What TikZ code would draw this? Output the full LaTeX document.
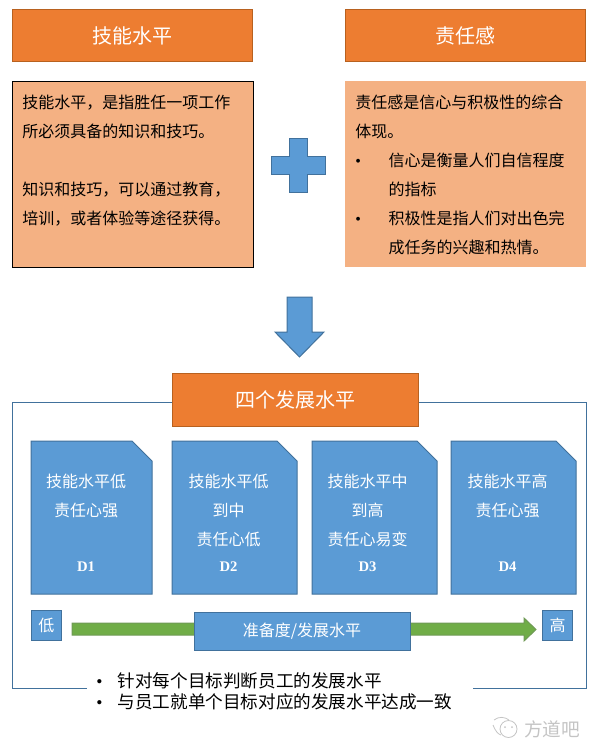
\documentclass[tikz,border=0pt]{standalone}
\usepackage{fontspec}
\setmainfont{Noto Sans CJK SC}
\newfontfamily\latinfont{Liberation Serif}
\definecolor{orangefill}{HTML}{ED7D31}
\definecolor{orangeline}{HTML}{B8611F}
\definecolor{peachfill}{HTML}{F4B183}
\definecolor{bluefill}{HTML}{5B9BD5}
\definecolor{blueline}{HTML}{41719C}
\definecolor{greenfill}{HTML}{70AD47}
\definecolor{greenline}{HTML}{6F9A55}
\definecolor{markgray}{HTML}{C4C4C4}
\newcommand{\ls}[1]{\fontsize{#1}{21.7}\selectfont}
\newcommand{\itemdot}[1]{\makebox[#1][l]{\latinfont\textbullet}}
\begin{document}
\begin{tikzpicture}[x=0.75pt, y=-0.75pt,
  titlebox/.style={draw=orangeline, fill=orangefill, text=white, line width=0.75pt, font=\fontsize{15}{18}\selectfont},
  bluebox/.style={draw=blueline, fill=bluefill, text=white, line width=0.75pt, font=\fontsize{12}{14}\selectfont},
  shapeline/.style={draw=blueline, fill=bluefill, line width=0.75pt},
  doctext/.style={text=white, align=center, anchor=north, font=\ls{12}},
  doclabel/.style={text=white, font=\latinfont\bfseries\fontsize{11}{14}\selectfont}]
  \useasboundingbox (0,0) rectangle (599,756);
  % top row
  \node[titlebox, minimum width=180.5pt, minimum height=39.5pt] (skillhead) at (132.5,35.5) {技能水平};
  \node[titlebox, minimum width=180.5pt, minimum height=39.5pt] (dutyhead) at (465.5,35.5) {责任感};
  \fill[peachfill] (12,81) rectangle (253,267);
  \draw[black, line width=0.6pt] (12,81) rectangle (253,267);
  \fill[peachfill] (345,81) rectangle (586,267);
  \node[anchor=north west, align=left, inner sep=0pt, font=\ls{12}] (skilltext) at (22,95)
    {技能水平，是指胜任一项工作\\所必须具备的知识和技巧。\\[21.7pt]知识和技巧，可以通过教育，\\培训，或者体验等途径获得。};
  \node[anchor=north west, align=left, inner sep=0pt, font=\ls{12}] (dutytext) at (355,95)
    {责任感是信心与积极性的综合\\体现。\\\itemdot{25pt}信心是衡量人们自信程度\\\hspace*{25pt}的指标\\\itemdot{25pt}积极性是指人们对出色完\\\hspace*{25pt}成任务的兴趣和热情。};
  % plus and arrow
  \draw[shapeline] (289,139) -- (307,139) -- (307,157) -- (325,157) -- (325,174) -- (307,174)
    -- (307,192) -- (289,192) -- (289,174) -- (271,174) -- (271,157) -- (289,157) -- cycle;
  \draw[shapeline] (287,297) -- (312,297) -- (312,332) -- (324,332) -- (299.5,357) -- (275,332) -- (287,332) -- cycle;
  % lower frame
  \draw[blueline, line width=0.6pt] (12,402) rectangle (586,688);
  \node[titlebox, minimum width=185pt, minimum height=40pt] (levelhead) at (295.5,400) {四个发展水平};
  \foreach \name/\xa/\xb in {one/31/152, two/172/297, three/312/437, four/451/576}
    \draw[shapeline] (\xa,441) -- ({\xb-20},441) -- (\xb,461) -- (\xb,594) -- (\xa,594) -- cycle;
  \node[doctext] (lvlone) at (86,469) {技能水平低\\责任心强};
  \node[doctext] (lvltwo) at (228.5,469) {技能水平低\\到中\\责任心低};
  \node[doctext] (lvlthree) at (367.5,469) {技能水平中\\到高\\责任心易变};
  \node[doctext] (lvlfour) at (507.5,469) {技能水平高\\责任心强};
  \node[doclabel] (done) at (86,567) {D1};
  \node[doclabel] (dtwo) at (228.5,567) {D2};
  \node[doclabel] (dthree) at (367.5,567) {D3};
  \node[doclabel] (dfour) at (507.5,567) {D4};
  % readiness scale
  \draw[draw=greenline, fill=greenfill, line width=0.75pt] (72,623) -- (524,623) -- (524,618) -- (536,629.5) -- (524,641) -- (524,635) -- (72,635) -- cycle;
  \node[bluebox, minimum width=23pt, minimum height=23pt] (low) at (46.5,625.5) {低};
  \node[bluebox, minimum width=23pt, minimum height=23pt] (high) at (557.5,625.5) {高};
  \node[bluebox, minimum width=162pt, minimum height=29pt] (scale) at (302,631.5) {准备度/发展水平};
  % notes under the frame
  \fill[white] (87,664) rectangle (473,714);
  \node[anchor=north west, align=left, inner sep=0pt, font=\fontsize{13.2}{15.8}\selectfont] (notes) at (96,672)
    {\itemdot{16pt}针对每个目标判断员工的发展水平\\\itemdot{16pt}与员工就单个目标对应的发展水平达成一致};
  % watermark
  \draw[markgray, line width=0.6pt] (508.5,729) circle (8.5);
  \draw[markgray, line width=0.6pt] (493,725) .. controls (496,732) and (498,734) .. (501,735);
  \draw[markgray, line width=0.6pt] (494,720) .. controls (499,716) and (505,717) .. (509,720);
  \fill[markgray] (505,727) circle (1) (512,727) circle (1);
  \node[text=markgray, inner sep=0pt, anchor=west, font=\fontsize{14}{16}\selectfont] (mark) at (524,729) {方道吧};
\end{tikzpicture}
\end{document}
